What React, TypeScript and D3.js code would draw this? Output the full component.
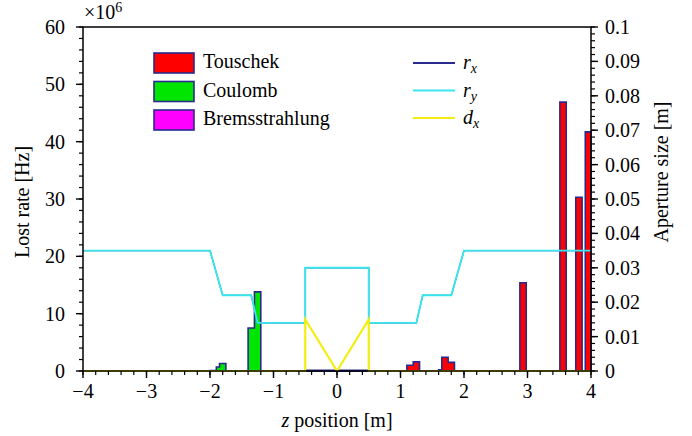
import React from 'react'
import * as d3 from 'd3'

// bins: [lo, hi] in m, rate in 1e6 Hz
const touschekLo = [1.1, 1.2, 1.6, 1.65, 1.75, 2.88, 3.51, 3.76, 3.91]
const touschekHi = [1.2, 1.3, 1.65, 1.75, 1.85, 2.98, 3.61, 3.86, 4.0]
const touschekRate = [1.0, 1.6, 0.2, 2.4, 1.5, 15.4, 46.9, 30.3, 41.7]

const coulombLo = [-2.0, -1.9, -1.85, -1.4, -1.3]
const coulombHi = [-1.9, -1.85, -1.75, -1.3, -1.2]
const coulombRate = [0.1, 0.7, 1.3, 7.5, 13.8]

const bremsLo = [-0.5]
const bremsHi = [0.5]
const bremsRate = [0.12]

// aperture lines
const ryZ = [-4, -2, -1.8, -1.35, -1.25, -0.5, -0.5, 0.5, 0.5, 1.25, 1.35, 1.8, 2, 4]
const ryVal = [0.035, 0.035, 0.022, 0.022, 0.014, 0.014, 0.03, 0.03, 0.014, 0.014, 0.022, 0.022, 0.035, 0.035]
const rxZ = ryZ
const rxVal = ryVal
const dxZ = [-4, -0.5, -0.5, 0, 0.5, 0.5, 4]
const dxVal = [0, 0, 0.015, 0, 0.015, 0, 0]

const xTicks = [-4, -3, -2, -1, 0, 1, 2, 3, 4]
const yLeftTicks = [0, 10, 20, 30, 40, 50, 60]
const yRightTicks = [0, 0.01, 0.02, 0.03, 0.04, 0.05, 0.06, 0.07, 0.08, 0.09, 0.1]

const W = 692, H = 436
const left = 83, right = 591, top = 27, bottom = 371
const FONT = 'Liberation Serif, DejaVu Serif, serif'
const NAVY = '#2a2a8e'
const RED = '#ff0000'
const GREEN = '#00e600'
const MAGENTA = '#ff00ff'
const CYAN = '#3ae6ee'
const YELLOW = '#f4ee10'

function histPath(lo: number[], hi: number[], v: number[], x: any, y: any) {
    const pts: [number, number][] = [[-4, 0]]
    lo.forEach((l, i) => {
        pts.push([l, v[i]])
        if (i === lo.length - 1 || lo[i + 1] > hi[i]) pts.push([hi[i], 0])
    })
    pts.push([4, 0])
    return d3.area<[number, number]>()
        .x(d => x(d[0]))
        .y0(y(0))
        .y1(d => y(d[1]))
        .curve(d3.curveStepAfter)(pts)
}

export default function App() {
    const x = d3.scaleLinear().domain([-4, 4]).range([left, right])
    const yL = d3.scaleLinear().domain([0, 60]).range([bottom, top])
    const yR = d3.scaleLinear().domain([0, 0.1]).range([bottom, top])

    const line = (zs: number[], vs: number[]) =>
        d3.line<number>().x((_, i) => x(zs[i])).y(d => yR(d))(vs)

    const xMinor = d3.range(-4, 4.001, 0.2)
    const yLMinor = d3.range(0, 60.001, 2)
    const yRMinor = d3.range(0, 0.1001, 0.002)

    const series = [
        { lo: touschekLo, hi: touschekHi, v: touschekRate, fill: RED },
        { lo: coulombLo, hi: coulombHi, v: coulombRate, fill: GREEN },
        { lo: bremsLo, hi: bremsHi, v: bremsRate, fill: MAGENTA },
    ]

    const barLegend = [
        { name: 'Touschek', fill: RED },
        { name: 'Coulomb', fill: GREEN },
        { name: 'Bremsstrahlung', fill: MAGENTA },
    ]
    const lineLegend = [
        { sym: 'r', sub: 'x', color: NAVY },
        { sym: 'r', sub: 'y', color: CYAN },
        { sym: 'd', sub: 'x', color: YELLOW },
    ]

    return (
        <svg width={W} height={H} style={{ position: 'absolute', left: 0, top: 0, background: '#fff', fontFamily: FONT, fontSize: 20 }}>
            {/* bars */}
            {series.map((s, i) => (
                <path key={i} d={histPath(s.lo, s.hi, s.v, x, yL) || ''} fill={s.fill}
                    stroke={NAVY} strokeWidth={1.6} strokeLinejoin="miter" />
            ))}

            {/* lines */}
            <path d={line(rxZ, rxVal) || ''} fill="none" stroke={NAVY} strokeWidth={1.2} />
            <path d={line(ryZ, ryVal) || ''} fill="none" stroke={CYAN} strokeWidth={1.9} />
            <path d={line(dxZ, dxVal) || ''} fill="none" stroke={YELLOW} strokeWidth={2.2} />

            {/* frame */}
            <rect x={left} y={top} width={right - left} height={bottom - top} fill="none" stroke="#000" strokeWidth={1.5} />

            {/* x ticks */}
            {xMinor.map((t, i) => (
                <line key={'xm' + i} x1={x(t)} x2={x(t)} y1={bottom} y2={bottom + 4} stroke="#000" strokeWidth={1.2} />
            ))}
            {xTicks.map(t => (
                <g key={'x' + t}>
                    <line x1={x(t)} x2={x(t)} y1={bottom} y2={bottom + 7} stroke="#000" strokeWidth={1.4} />
                    <text x={x(t)} y={398} textAnchor="middle">{t < 0 ? '\u2212' + Math.abs(t) : t}</text>
                </g>
            ))}

            {/* left ticks */}
            {yLMinor.map((t, i) => (
                <line key={'ylm' + i} x1={left - 4} x2={left} y1={yL(t)} y2={yL(t)} stroke="#000" strokeWidth={1.2} />
            ))}
            {yLeftTicks.map(t => (
                <g key={'yl' + t}>
                    <line x1={left - 7} x2={left} y1={yL(t)} y2={yL(t)} stroke="#000" strokeWidth={1.4} />
                    <text x={65} y={yL(t)} dy="0.35em" textAnchor="end">{t}</text>
                </g>
            ))}

            {/* right ticks */}
            {yRMinor.map((t, i) => (
                <line key={'yrm' + i} x1={right} x2={right + 4} y1={yR(t)} y2={yR(t)} stroke="#000" strokeWidth={1.2} />
            ))}
            {yRightTicks.map((t, i) => (
                <g key={'yr' + i}>
                    <line x1={right} x2={right + 7} y1={yR(t)} y2={yR(t)} stroke="#000" strokeWidth={1.4} />
                    <text x={605} y={yR(t)} dy="0.35em" textAnchor="start">{d3.format('~g')(+t.toFixed(2))}</text>
                </g>
            ))}

            {/* axis titles */}
            <text x={84} y={19}>×10<tspan dy={-7} fontSize={14}>6</tspan></text>
            <text transform={`translate(29,202) rotate(-90)`} textAnchor="middle">Lost rate [Hz]</text>
            <text transform={`translate(668,172) rotate(-90)`} textAnchor="middle">Aperture size [m]</text>
            <text x={337} y={427} textAnchor="middle"><tspan fontStyle="italic">z</tspan> position [m]</text>

            {/* legend: bars */}
            {barLegend.map((d, i) => (
                <g key={d.name} transform={`translate(154,${53 + i * 28.5})`}>
                    <rect x={0} y={0} width={40} height={20} fill={d.fill} stroke={NAVY} strokeWidth={1.6} />
                    <text x={49} y={15}>{d.name}</text>
                </g>
            ))}

            {/* legend: lines */}
            {lineLegend.map((d, i) => (
                <g key={i} transform={`translate(413,${63 + i * 27.5})`}>
                    <line x1={0} x2={42} y1={0} y2={0} stroke={d.color} strokeWidth={1.8} />
                    <text x={50} y={6}>
                        <tspan fontStyle="italic">{d.sym}</tspan>
                        <tspan dy={4} fontSize={14} fontStyle="italic">{d.sub}</tspan>
                    </text>
                </g>
            ))}
        </svg>
    )
}
